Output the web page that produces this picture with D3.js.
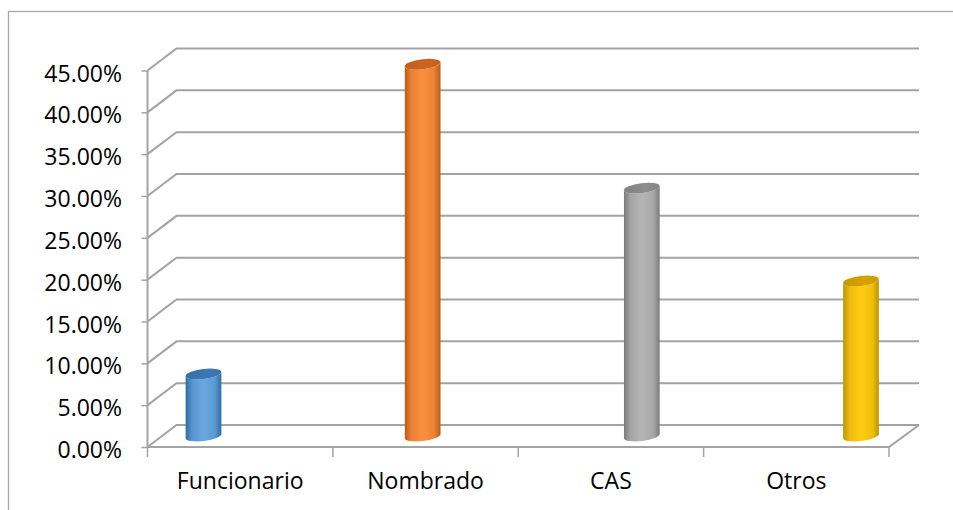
<!DOCTYPE html>
<html>
<head>
<meta charset="utf-8">
<script src="https://cdn.jsdelivr.net/npm/d3@7"></script>
<style>
  html, body { margin: 0; padding: 0; background: #fff; }
  svg { display: block; font-family: "Open Sans", "Noto Sans", sans-serif; }
</style>
</head>
<body>
<svg id="chart" width="953" height="510"></svg>
<script>
// Share of staff by contract type
const categories = ["Funcionario", "Nombrado", "CAS", "Otros"];
const shares = [0.0741, 0.4444, 0.2963, 0.1852];
const tickValues = [0, 0.05, 0.10, 0.15, 0.20, 0.25, 0.30, 0.35, 0.40, 0.45];
const barColors = [
  { dark: "#2f6aa3", mid: "#6aa8e1", top: "#3c78b4" },
  { dark: "#bd5a17", mid: "#fa9140", top: "#cc6520" },
  { dark: "#7b7b7b", mid: "#b6b6b6", top: "#8c8c8c" },
  { dark: "#c29200", mid: "#ffcd12", top: "#d6a200" }
];

const svg = d3.select("#chart");
const gridColor = "#a3a3a3";
const labelFont = "'Open Sans', sans-serif";

// Oblique 3D frame: front plane plus a receding depth offset
const x0 = 147.5, x1 = 889;
const depthX = 29, depthY = -22;

const y = d3.scaleLinear().domain([0, 0.45]).range([447, 70.5]);
const xBand = d3.scaleBand().domain(categories).range([x0, x1]).padding(0);
// Columns sit at mid-depth of the floor
const colX = d3.scalePoint().domain(categories).range([x0 + 56, x1 - 28]);

// Chart area outline
svg.append("rect")
  .attr("x", 8.5).attr("y", 11.5)
  .attr("width", 1000).attr("height", 600)
  .attr("fill", "none").attr("stroke", "#a6a6a6").attr("stroke-width", 1.3);

const grid = svg.append("g").attr("fill", "none").attr("stroke", gridColor).attr("stroke-width", 2);

// Back-wall gridlines with side-wall connectors
tickValues.forEach(t => {
  const yf = y(t), yb = y(t) + depthY;
  grid.append("path")
    .attr("d", `M${x0},${yf}L${x0 + depthX},${yb}L${x1 + depthX + 1},${yb}`);
});

// Floor outline
grid.append("path")
  .attr("d", `M${x0},${y(0)}L${x1},${y(0)}L${x1 + depthX + 1},${y(0) + depthY}`);

// Value axis
const yAxis = svg.append("g").attr("transform", `translate(${x0},0)`)
  .call(d3.axisLeft(y).tickValues(tickValues).tickSize(6).tickFormat(d3.format(".2%")));
yAxis.select(".domain").attr("stroke", gridColor).attr("stroke-width", 2)
  .attr("d", `M0,${y(0.45)}V${y(0)}`);
yAxis.selectAll(".tick line").attr("stroke", gridColor).attr("stroke-width", 1.5);
yAxis.selectAll(".tick text")
  .attr("x", -25.5).attr("dy", "0.46em")
  .attr("fill", "#000").style("font-size", "23px")
  .style("font-family", labelFont);

// Category axis
const xAxis = svg.append("g").attr("transform", `translate(0,${y(0)})`)
  .call(d3.axisBottom(xBand).tickSize(0).tickPadding(26));
xAxis.select(".domain").remove();
xAxis.selectAll(".tick text")
  .attr("fill", "#000").style("font-size", "23px")
  .style("font-family", labelFont)
  .attr("dy", "0.71em");
const edges = [x0, ...categories.map(c => xBand(c) + xBand.bandwidth())];
svg.append("g").selectAll("line").data(edges).join("line")
  .attr("x1", d => d).attr("x2", d => d)
  .attr("y1", y(0)).attr("y2", y(0) + 10)
  .attr("stroke", gridColor).attr("stroke-width", 1.5);

// Cylinder gradients
const defs = svg.append("defs");
barColors.forEach((c, i) => {
  const g = defs.append("linearGradient").attr("id", "body" + i)
    .attr("x1", "0%").attr("x2", "100%").attr("y1", "0%").attr("y2", "0%");
  g.append("stop").attr("offset", "0%").attr("stop-color", c.dark);
  g.append("stop").attr("offset", "18%").attr("stop-color", d3.interpolateRgb(c.dark, c.mid)(0.7));
  g.append("stop").attr("offset", "50%").attr("stop-color", c.mid);
  g.append("stop").attr("offset", "82%").attr("stop-color", d3.interpolateRgb(c.dark, c.mid)(0.75));
  g.append("stop").attr("offset", "100%").attr("stop-color", c.dark);
  const t = defs.append("linearGradient").attr("id", "top" + i)
    .attr("x1", "0%").attr("x2", "100%").attr("y1", "0%").attr("y2", "0%");
  t.append("stop").attr("offset", "0%").attr("stop-color", d3.color(c.top).darker(0.2));
  t.append("stop").attr("offset", "60%").attr("stop-color", c.top);
  t.append("stop").attr("offset", "100%").attr("stop-color", d3.color(c.top).darker(0.1));
});

// Columns drawn as tilted cylinders
const rx = 18, ry = 5, tilt = -7 * Math.PI / 180;
const ct = Math.cos(tilt), st = Math.sin(tilt);
const cols = svg.append("g");
categories.forEach((cat, i) => {
  const cx = colX(cat);
  const yb = y(0) + depthY / 2;
  const yt = y(shares[i]) + depthY / 2;
  // end points of the tilted ellipse's major axis
  const lx = -rx * ct, ly = -rx * st, rxp = rx * ct, ryp = rx * st;
  const deg = tilt * 180 / Math.PI;
  const body = `M${cx + lx},${yt + ly}` +
    `L${cx + lx},${yb + ly}` +
    `A${rx},${ry} ${deg} 0 0 ${cx + rxp},${yb + ryp}` +
    `L${cx + rxp},${yt + ryp}` +
    `A${rx},${ry} ${deg} 0 1 ${cx + lx},${yt + ly}Z`;
  cols.append("path").attr("d", body).attr("fill", `url(#body${i})`);
  cols.append("ellipse")
    .attr("cx", 0).attr("cy", 0).attr("rx", rx).attr("ry", ry)
    .attr("transform", `translate(${cx},${yt}) rotate(${deg})`)
    .attr("fill", `url(#top${i})`);
});
</script>
</body>
</html>
